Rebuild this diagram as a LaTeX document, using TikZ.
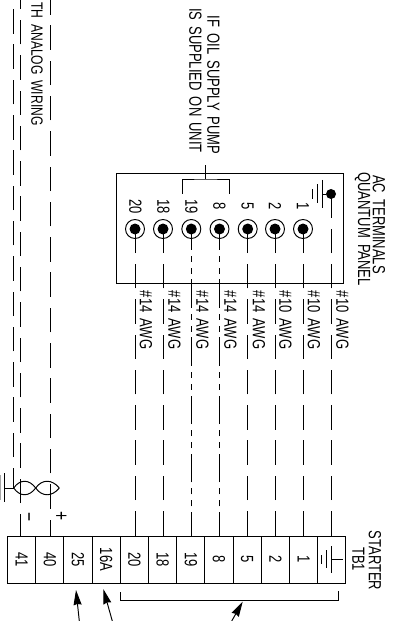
\documentclass[tikz,border=0pt]{standalone}
\usepackage{fontspec}
\usetikzlibrary{arrows.meta}
\newfontfamily\cadfont[FakeStretch=0.74, WordSpace=1.7]{Liberation Sans}
\begin{document}
\begin{tikzpicture}[x=0.02cm, y=-0.02cm, line width=0.55pt,
    txt/.style={rotate=-90, inner sep=0pt, font=\cadfont\fontsize{10}{11}\selectfont},
    txtsmall/.style={txt, font=\cadfont\fontsize{9.3}{10}\selectfont},
    sign/.style={txt, font=\cadfont\fontsize{12}{12}\selectfont},
    cell/.style={txt, draw, minimum width=0.94cm, minimum height=0.564cm},
    terminal/.style={circle, draw, inner sep=0pt, minimum size=0.38cm, path picture={\fill (path picture bounding box.center) circle (0.11cm);}},
    wire/.style={dash pattern=on 0.49cm off 0.216cm},
    wirephase/.style={dash pattern=on 0.57cm off 0.114cm on 0.12cm off 0.12cm on 0.12cm off 0.12cm, dash phase=0.1cm},
    pointer/.style={-{Stealth[length=0.3cm, width=0.16cm, inset=0.6pt]}}]
    \useasboundingbox (0, 0) rectangle (402, 621);

    \node[txt] (note1) at (213.5, 85) {IF OIL SUPPLY PUMP};
    \node[txt] (note2) at (195.5, 80.5) {IS SUPPLIED ON UNIT};
    \node[txtsmall, anchor=east] (note3) at (37, 126) {TH ANALOG WIRING};

    \node[draw, minimum width=4.54cm, minimum height=2.2cm, inner sep=0pt] (panel) at (229.5, 228) {};
    \node[txt] (panel1) at (379, 224.5) {AC TERMINALS};
    \node[txt] (panel2) at (362.5, 229) {QUANTUM PANEL};

    \node[terminal] (t20) at (135, 229) {};
    \node[terminal] (t18) at (163, 229) {};
    \node[terminal] (t19) at (191.3, 229) {};
    \node[terminal] (t8) at (219.5, 229) {};
    \node[terminal] (t5) at (247.7, 229) {};
    \node[terminal] (t2) at (275, 229) {};
    \node[terminal] (t1) at (303, 229) {};
    \node[circle, fill, inner sep=0pt, minimum size=0.2cm] (tg) at (331, 194) {};

    \node[txt] (n20) at (135.5, 206.5) {20};
    \node[txt] (n18) at (163.5, 206.5) {18};
    \node[txt] (n19) at (191.5, 206.5) {19};
    \node[txt] (n8) at (219.5, 206.5) {8};
    \node[txt] (n5) at (247.5, 206.5) {5};
    \node[txt] (n2) at (275, 206.5) {2};
    \node[txt] (n1) at (303, 206.5) {1};

    \coordinate (g1) at (322, 194);
    \coordinate (b1) at (182, 194);
    \coordinate (b2) at (229, 194);
    \coordinate (b3) at (205.5, 179);
    \coordinate (b4) at (205.5, 165);
    \draw (b1) |- (b3) -| (b2);
    \draw (b3) -- (b4);
    \draw (tg) -- (g1);
    \draw (322, 180) -- (322, 208);
    \draw (317, 184.5) -- (317, 203.5);
    \draw (312, 189.3) -- (312, 198.7);

    \node[cell] (c41) at (21.6, 559.5) {41};
    \node[cell] (c40) at (49.8, 559.5) {40};
    \node[cell] (c25) at (78, 559.5) {25};
    \node[cell] (c16) at (106.2, 559.5) {16A};
    \node[cell] (c20) at (134.4, 559.5) {20};
    \node[cell] (c18) at (162.6, 559.5) {18};
    \node[cell] (c19) at (190.8, 559.5) {19};
    \node[cell] (c8) at (219, 559.5) {8};
    \node[cell] (c5) at (247.2, 559.5) {5};
    \node[cell] (c2) at (275.4, 559.5) {2};
    \node[cell] (c1) at (303.6, 559.5) {1};
    \node[cell] (cg) at (331.8, 559.5) {};
    \draw (331.3, 546) -- (331.3, 572.7);
    \draw (326.3, 550) -- (326.3, 568);
    \draw (321.3, 555) -- (321.3, 564);
    \draw (331.3, 559.3) -- (342.7, 559.3);

    \node[txt] (s1) at (375, 560.5) {STARTER};
    \node[txt] (s2) at (358.5, 559) {TB1};

    \draw[wire] (c20.west -| t20) -- (t20.center);
    \draw[wire] (c18.west -| t18) -- (t18.center);
    \draw[wirephase] (c19.west -| t19) -- (t19.center);
    \draw[wirephase] (c8.west -| t8) -- (t8.center);
    \draw[wire] (c5.west -| t5) -- (t5.center);
    \draw[wire] (c2.west -| t2) -- (t2.center);
    \draw[wire] (c1.west -| t1) -- (t1.center);
    \draw[wire] (cg.west -| tg) -- (tg.center);

    \node[txt] (w20) at (146, 320) {\#14 AWG};
    \node[txt] (w18) at (174.5, 320) {\#14 AWG};
    \node[txt] (w19) at (202.5, 320) {\#14 AWG};
    \node[txt] (w8) at (230.5, 320) {\#14 AWG};
    \node[txt] (w5) at (259, 320) {\#14 AWG};
    \node[txt] (w2) at (285.5, 320) {\#10 AWG};
    \node[txt] (w1) at (314, 320) {\#10 AWG};
    \node[txt] (wg) at (342.5, 320) {\#10 AWG};

    \coordinate (top1) at (13.7, 0);
    \coordinate (top2) at (20.3, 0);
    \coordinate (top3) at (50.3, 0);
    \coordinate (shield) at (13.7, 488);
    \coordinate (cross) at (35.7, 488);
    \coordinate (tip) at (59.3, 488);
    \coordinate (bar) at (4.3, 488);
    \draw[wire, dash phase=0.09cm] (shield) -- (top1);
    \draw[wire, dash phase=0.06cm] (c41.west -| top2) -- (top2);
    \draw[wire, dash phase=0.17cm] (c40.west -| top3) -- (top3);
    \draw (shield) -- (bar);
    \draw (4.3, 473) -- (4.3, 502);
    \draw[black!35] (0.4, 475) -- (0.4, 500);
    \draw (shield) .. controls (20, 479) and (29, 479) .. (cross) .. controls (42, 497) and (52, 497) .. (tip);
    \draw (shield) .. controls (20, 497) and (29, 497) .. (cross) .. controls (42, 479) and (52, 479) .. (tip);
    \node[sign] (minus) at (26, 517) {\textminus};
    \node[sign] (plus) at (60.5, 516) {+};

    \coordinate (a1) at (79.3, 621);
    \coordinate (a2) at (112.3, 621);
    \coordinate (a3) at (231.7, 621);
    \coordinate (e1) at (76, 590);
    \coordinate (e2) at (103.3, 589);
    \coordinate (e3) at (242.7, 601.7);
    \coordinate (l1) at (120.5, 592);
    \coordinate (l2) at (338, 591);
    \draw[pointer] (a1) -- (e1);
    \draw[pointer] (a2) -- (e2);
    \draw[pointer] (a3) -- (e3);
    \draw (l1) |- (338, 600) -- (l2);
  \end{tikzpicture}
\end{document}
